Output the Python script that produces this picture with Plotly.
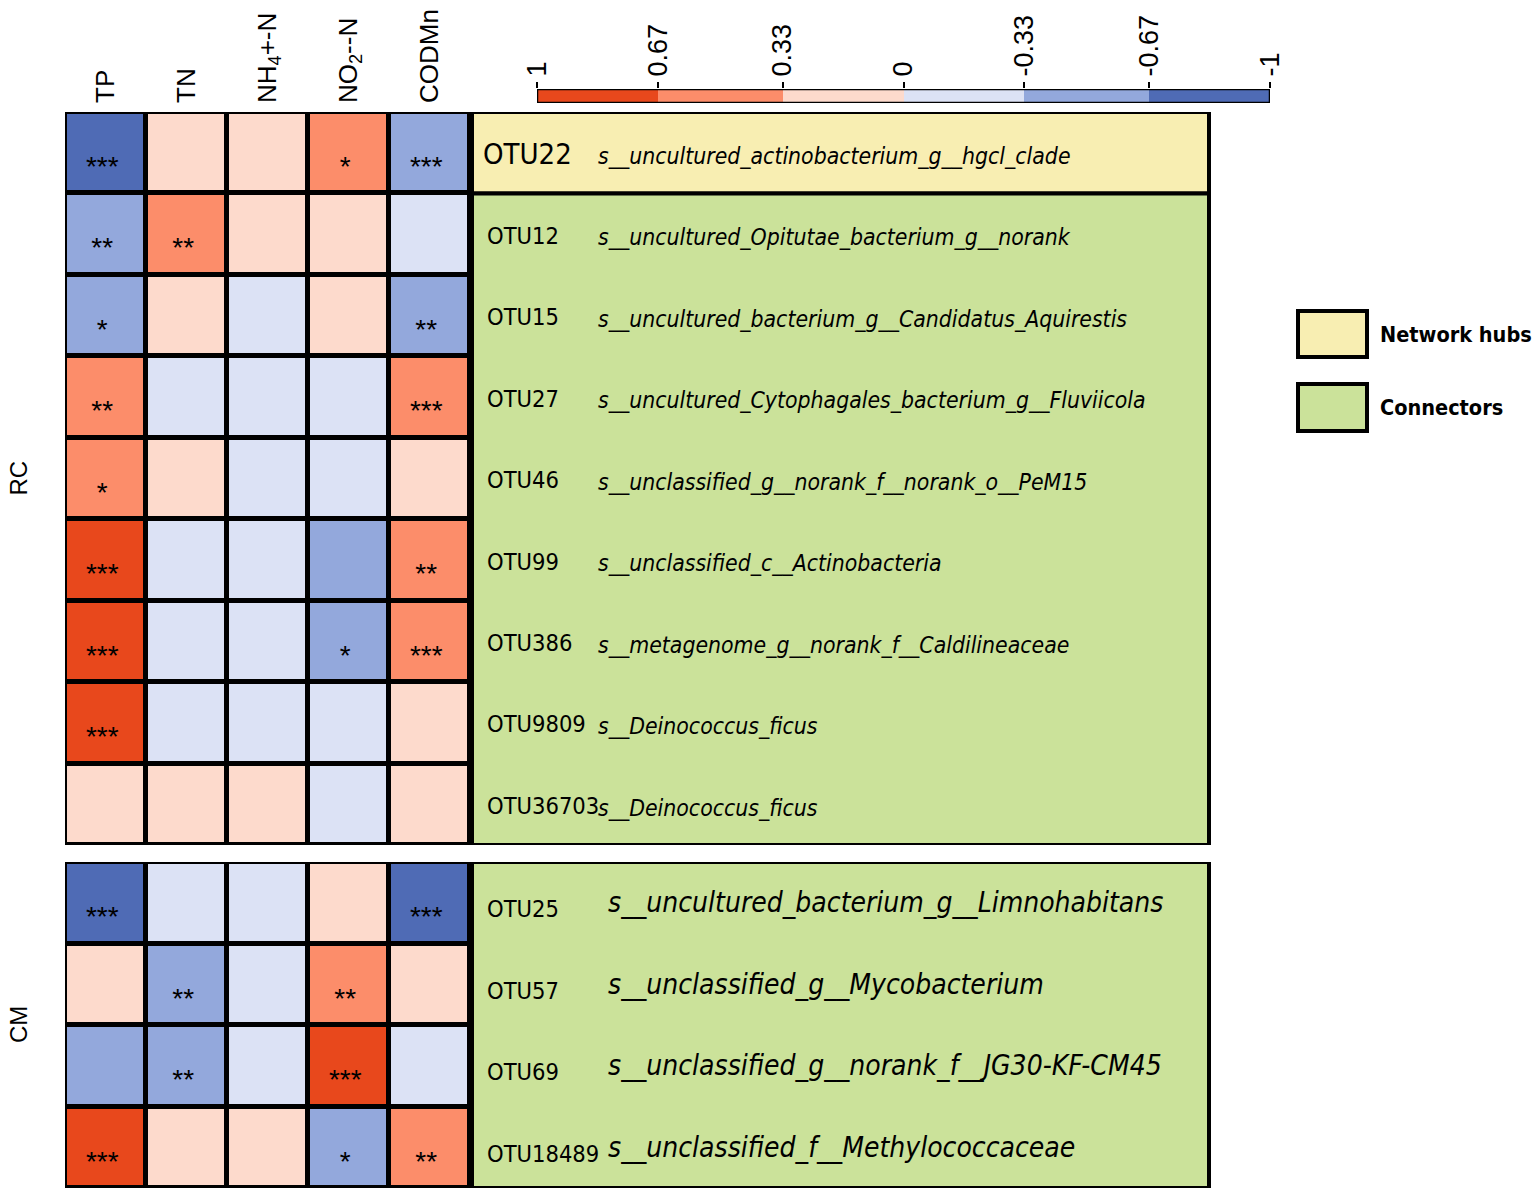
import plotly.graph_objects as go

# ---------------- data ----------------
columns = ["TP", "TN", "NH<sub>4</sub>+-N", "NO<sub>2</sub>--N", "CODMn"]

rc_otus = ["OTU22", "OTU12", "OTU15", "OTU27", "OTU46", "OTU99", "OTU386", "OTU9809", "OTU36703"]
rc_species = [
    "s__uncultured_actinobacterium_g__hgcl_clade",
    "s__uncultured_Opitutae_bacterium_g__norank",
    "s__uncultured_bacterium_g__Candidatus_Aquirestis",
    "s__uncultured_Cytophagales_bacterium_g__Fluviicola",
    "s__unclassified_g__norank_f__norank_o__PeM15",
    "s__unclassified_c__Actinobacteria",
    "s__metagenome_g__norank_f__Caldilineaceae",
    "s__Deinococcus_ficus",
    "s__Deinococcus_ficus",
]
rc_roles = ["Network hubs"] + ["Connectors"] * 8
rc_r = [
    [-0.80, 0.20, 0.18, 0.45, -0.50],
    [-0.50, 0.48, 0.15, 0.12, -0.10],
    [-0.42, 0.18, -0.12, 0.16, -0.52],
    [0.50, -0.15, -0.10, -0.12, 0.55],
    [0.45, 0.20, -0.15, -0.18, 0.22],
    [0.80, -0.12, -0.20, -0.40, 0.52],
    [0.82, -0.16, -0.10, -0.45, 0.58],
    [0.78, -0.20, -0.14, -0.15, 0.20],
    [0.25, 0.10, 0.12, -0.08, 0.15],
]
rc_sig = [
    ["***", "", "", "*", "***"],
    ["**", "**", "", "", ""],
    ["*", "", "", "", "**"],
    ["**", "", "", "", "***"],
    ["*", "", "", "", ""],
    ["***", "", "", "", "**"],
    ["***", "", "", "*", "***"],
    ["***", "", "", "", ""],
    ["", "", "", "", ""],
]

cm_otus = ["OTU25", "OTU57", "OTU69", "OTU18489"]
cm_species = [
    "s__uncultured_bacterium_g__Limnohabitans",
    "s__unclassified_g__Mycobacterium",
    "s__unclassified_g__norank_f__JG30-KF-CM45",
    "s__unclassified_f__Methylococcaceae",
]
cm_roles = ["Connectors"] * 4
cm_r = [
    [-0.80, -0.15, -0.12, 0.18, -0.78],
    [0.22, -0.48, -0.14, 0.50, 0.20],
    [-0.40, -0.45, -0.10, 0.80, -0.15],
    [0.80, 0.18, 0.15, -0.45, 0.52],
]
cm_sig = [
    ["***", "", "", "", "***"],
    ["", "**", "", "**", ""],
    ["", "**", "", "***", ""],
    ["***", "", "", "*", "**"],
]

groups = ["RC", "CM"]
bin_edges = [1, 0.67, 0.33, 0, -0.33, -0.67, -1]
bin_labels = ["1", "0.67", "0.33", "0", "-0.33", "-0.67", "-1"]
bin_colors = ["#E8481C", "#FC8D6A", "#FDDACC", "#DCE2F5", "#93A8DC", "#4F6BB5"]
bin_mids = [(bin_edges[i] + bin_edges[i + 1]) / 2 for i in range(len(bin_colors))]
role_colors = {"Network hubs": "#F8EEB2", "Connectors": "#CBE29A"}

# ---------------- helpers ----------------
W, H = 1535, 1198
def px(v):
    return v / W
def py(v):
    return 1 - v / H

colorscale = []
for i in reversed(range(len(bin_colors))):
    lo = (bin_edges[i + 1] + 1) / 2
    hi = (bin_edges[i] + 1) / 2
    colorscale.append([lo, bin_colors[i]])
    colorscale.append([hi, bin_colors[i]])

NARROW = "DejaVu Sans Condensed, Liberation Sans Narrow, Arial Narrow, sans-serif"
ARIAL = "Liberation Sans, Arial, sans-serif"

fig = go.Figure()
blocks = [
    (rc_r, rc_sig, rc_otus, rc_species, rc_roles, "x", "y", (65, 470, 112, 845)),
    (cm_r, cm_sig, cm_otus, cm_species, cm_roles, "x2", "y2", (65, 470, 862, 1188)),
]
shapes = []
annotations = []
for bi, (z, sig, otus, species, roles, xa, ya, box) in enumerate(blocks):
    nrow = len(z)
    ncol = len(columns)
    fig.add_trace(go.Heatmap(
        z=z, x=list(range(ncol)), y=list(range(nrow)),
        zmin=-1, zmax=1, colorscale=colorscale, showscale=False,
        xgap=5, ygap=5, xaxis=xa, yaxis=ya,
        hovertemplate="%{z:.2f}<extra></extra>",
    ))
    sx, sy, st = [], [], []
    for r in range(nrow):
        for c in range(ncol):
            if sig[r][c]:
                sx.append(c - 0.04)
                sy.append(r + 0.2)
                st.append(sig[r][c])
    fig.add_trace(go.Scatter(
        x=sx, y=sy, text=st, mode="text", xaxis=xa, yaxis=ya,
        textfont=dict(size=28, color="black", family=ARIAL),
        hoverinfo="skip", showlegend=False,
    ))
    yref = ya
    shapes.append(dict(type="rect", xref=xa, yref=yref, x0=-0.5, x1=ncol - 0.5,
                       y0=-0.5, y1=nrow - 0.5, line=dict(color="black", width=4),
                       fillcolor="rgba(0,0,0,0)", layer="above"))
    # role panel boxes (consecutive runs)
    start = 0
    for r in range(1, nrow + 1):
        if r == nrow or roles[r] != roles[start]:
            shapes.append(dict(type="rect", xref="paper", yref=yref,
                               x0=px(472), x1=px(1209), y0=start - 0.5, y1=r - 0.5,
                               fillcolor=role_colors[roles[start]],
                               line=dict(color="black", width=4), layer="below"))
            start = r
    for r in range(nrow):
        hub = roles[r] == "Network hubs"
        annotations.append(dict(
            x=px(481 if hub else 485), y=r + (0.02 if bi == 0 else 0.08), xref="paper", yref=yref,
            xanchor="left", yanchor="middle", showarrow=False, text=otus[r],
            font=dict(family=NARROW, size=29 if hub else 23.5, color="black")))
        annotations.append(dict(
            x=px(596 if bi == 0 else 606), y=r + (0.04 if bi == 0 else 0.0), xref="paper", yref=yref,
            xanchor="left", yanchor="middle", showarrow=False,
            text="<i>" + species[r] + "</i>",
            font=dict(family=NARROW, size=22.8 if bi == 0 else 28, color="black")))
    # group label
    annotations.append(dict(
        x=px(18), y=(py(box[2]) + py(box[3])) / 2, xref="paper", yref="paper",
        xanchor="center", yanchor="middle",
        text=groups[bi], textangle=-90, showarrow=False,
        font=dict(family=ARIAL, size=24, color="black")))

# colour bar as its own heatmap on a reversed axis
fig.add_trace(go.Heatmap(
    z=[bin_mids], x=bin_edges, y=[0], zmin=-1, zmax=1, colorscale=colorscale,
    showscale=False, xaxis="x3", yaxis="y3", hoverinfo="skip",
))
shapes.append(dict(type="rect", xref="x3", yref="y3", x0=1, x1=-1, y0=-0.5, y1=0.5,
                   line=dict(color="black", width=2.5), layer="above"))

# legend
leg = [("Network hubs", 311, 357), ("Connectors", 384, 431)]
for name, y0, y1 in leg:
    shapes.append(dict(type="rect", xref="paper", yref="paper",
                       x0=px(1298), x1=px(1367), y0=py(y1), y1=py(y0),
                       fillcolor=role_colors[name], line=dict(color="black", width=4)))
    annotations.append(dict(x=px(1378), y=py((y0 + y1) / 2), xref="paper", yref="paper",
                            xanchor="left", yanchor="middle", showarrow=False,
                            text="<b>" + name + "</b>",
                            font=dict(family=NARROW, size=21.5, color="black")))

axis_common = dict(showgrid=False, zeroline=False, showline=False, automargin=False)
fig.update_layout(
    width=W, height=H, margin=dict(l=0, r=0, t=0, b=0, pad=0, autoexpand=False),
    paper_bgcolor="white", plot_bgcolor="black", showlegend=False,
    font=dict(family=ARIAL, color="black"),
    xaxis=dict(domain=[px(65), px(470)], range=[-0.5, 4.5], anchor="y", side="top",
               tickvals=list(range(len(columns))), ticktext=columns, tickangle=-90,
               tickfont=dict(size=26, family=ARIAL), ticks="", ticklabelstandoff=8, **axis_common),
    yaxis=dict(domain=[py(845), py(112)], range=[8.5, -0.5], anchor="x",
               showticklabels=False, ticks="", **axis_common),
    xaxis2=dict(domain=[px(65), px(470)], range=[-0.5, 4.5], anchor="y2",
                showticklabels=False, ticks="", **axis_common),
    yaxis2=dict(domain=[py(1188), py(862)], range=[3.5, -0.5], anchor="x2",
                showticklabels=False, ticks="", **axis_common),
    xaxis3=dict(domain=[px(537), px(1270)], range=[1, -1], anchor="y3", side="top",
                tickvals=bin_edges, ticktext=bin_labels, tickangle=-90,
                ticks="outside", ticklen=6, tickwidth=2, tickcolor="black",
                tickfont=dict(size=27, family=ARIAL), **axis_common),
    yaxis3=dict(domain=[py(103), py(89)], range=[-0.5, 0.5], anchor="x3",
                visible=False),
    shapes=shapes, annotations=annotations,
)

fig.write_html("out.html", config={"displayModeBar": False},
               post_script="document.body.style.margin='0';")
